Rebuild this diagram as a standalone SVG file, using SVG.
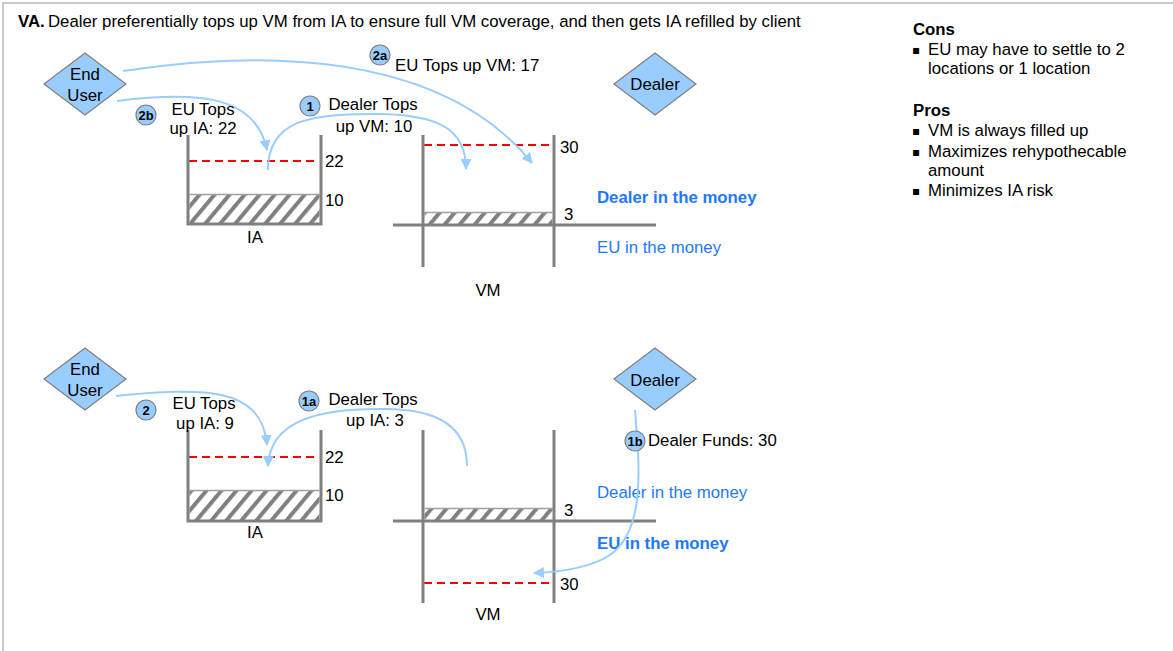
<svg xmlns="http://www.w3.org/2000/svg" width="1173" height="651" viewBox="0 0 1173 651">
<style>
text{font-family:"Liberation Sans",Arial,sans-serif;font-size:16.8px;fill:#000}
.b{font-weight:bold}
.m{text-anchor:middle}
.blue{fill:#1e78ff}
.badge circle{fill:#99ccff;stroke:#7f7f7f;stroke-width:1.2}
.badge text{font-size:13px;font-weight:bold;text-anchor:middle}
.node polygon{fill:#99ccff;stroke:#7f7f7f;stroke-width:1.2}
.wall{stroke:#808080;stroke-width:3;fill:none}
.dash{stroke:#ff0000;stroke-width:2;stroke-dasharray:8 5;fill:none}
.conn path{fill:none;stroke:#99ccff;stroke-width:2}
.arr{marker-end:url(#ah)}
.hatch{fill:url(#hp)}
.htop{stroke:#a0a0a0;stroke-width:1.5}
.bul{font-family:"DejaVu Sans","Liberation Sans",sans-serif;font-size:12px}
</style>
<defs>
<marker id="ah" viewBox="0 0 10 10" refX="9" refY="5" markerWidth="11" markerHeight="11" markerUnits="userSpaceOnUse" orient="auto">
<path d="M0,0 L10,5 L0,10 z" fill="#99ccff"/>
</marker>
<pattern id="hp" patternUnits="userSpaceOnUse" width="11.5" height="11.5" patternTransform="rotate(40)">
<rect width="11.5" height="11.5" fill="#fff"/>
<rect width="4" height="11.5" fill="#808080"/>
</pattern>
</defs>
<rect x="0" y="0" width="1173" height="651" fill="#fff"/>
<path d="M3,651 V3 H1173" fill="none" stroke="#c8c8c8" stroke-width="2"/>

<text x="18" y="27"><tspan class="b">VA.</tspan><tspan x="48">Dealer preferentially tops up VM from IA to ensure full VM coverage, and then gets IA refilled by client</tspan></text>

<!-- Top section -->
<g id="top-enduser" class="node"><polygon points="44,84 85,53 126,84 85,115"/><text class="m" x="85" y="80">End</text><text class="m" x="85" y="101">User</text></g>
<g id="top-dealer" class="node"><polygon points="614,84 655,53 696,84 655,115"/><text class="m" x="655" y="90">Dealer</text></g>

<g id="top-ia">
<rect class="hatch" x="189.5" y="194" width="130" height="29.5"/>
<line class="htop" x1="189.5" y1="194.5" x2="319.5" y2="194.5"/>
<line class="dash" x1="189" y1="161" x2="318" y2="161"/>
<path class="wall" d="M188,135 V224 H321 V135"/>
<text x="325" y="167">22</text><text x="325" y="206">10</text><text class="m" x="255" y="243">IA</text>
</g>
<g id="top-vm">
<rect class="hatch" x="424.5" y="212" width="128" height="12"/>
<line class="htop" x1="424.5" y1="212.5" x2="552.5" y2="212.5"/>
<line class="dash" x1="424" y1="145" x2="550" y2="145"/>
<line class="wall" x1="393" y1="225" x2="656" y2="225"/>
<line class="wall" x1="423" y1="135" x2="423" y2="267"/>
<line class="wall" x1="554" y1="135" x2="554" y2="267"/>
<text x="560" y="153">30</text><text x="564" y="220">3</text><text class="m" x="488" y="296">VM</text>
<text class="b blue" x="597" y="203">Dealer in the money</text>
<text class="blue" x="597" y="253">EU in the money</text>
</g>

<!-- Bottom section -->
<g id="bot-enduser" class="node"><polygon points="44,379 85,348 126,379 85,410"/><text class="m" x="85" y="375">End</text><text class="m" x="85" y="396">User</text></g>
<g id="bot-dealer" class="node"><polygon points="614,379 655,348 696,379 655,410"/><text class="m" x="655" y="386">Dealer</text></g>

<g id="bot-ia">
<rect class="hatch" x="189.5" y="490" width="130" height="30.5"/>
<line class="htop" x1="189.5" y1="490.5" x2="319.5" y2="490.5"/>
<line class="dash" x1="189" y1="457" x2="318" y2="457"/>
<path class="wall" d="M188,430 V521 H321 V430"/>
<text x="325" y="463">22</text><text x="325" y="501">10</text><text class="m" x="255" y="538">IA</text>
</g>
<g id="bot-vm">
<rect class="hatch" x="424.5" y="508" width="128" height="12"/>
<line class="htop" x1="424.5" y1="508.5" x2="552.5" y2="508.5"/>
<line class="dash" x1="424" y1="583" x2="550" y2="583"/>
<line class="wall" x1="393" y1="521" x2="656" y2="521"/>
<line class="wall" x1="423" y1="430" x2="423" y2="603"/>
<line class="wall" x1="554" y1="430" x2="554" y2="603"/>
<text x="564" y="516">3</text><text x="560" y="590">30</text><text class="m" x="488" y="620">VM</text>
<text class="blue" x="597" y="498">Dealer in the money</text>
<text class="b blue" x="597" y="549">EU in the money</text>
</g>

<g id="connectors" class="conn">
<path class="arr" d="M123,71 C260,50 440,50 532,163"/>
<path class="arr" d="M117,101 C190,92 255,92 267,150"/>
<path class="arr" d="M268,170 C268,120 310,113 380,114 C440,115 466,130 466,169"/>
<path class="arr" d="M116,396 C200,388 262,385 267,445"/>
<path class="arr" d="M467,466 C467,425 435,409 385,409 C320,408 270,420 268,466"/>
<path class="arr" d="M635,410 C640,470 645,530 610,555 C590,568 560,572 534,573"/>
</g>

<g id="labels">
<text x="395" y="71">EU Tops up VM: 17</text>
<text class="m" x="203" y="115">EU Tops</text><text class="m" x="203" y="134">up IA: 22</text>
<text class="m" x="373" y="110">Dealer Tops</text><text class="m" x="374" y="132">up VM: 10</text>
<text class="m" x="204" y="409">EU Tops</text><text class="m" x="205" y="429">up IA: 9</text>
<text class="m" x="373" y="405">Dealer Tops</text><text class="m" x="375" y="426">up IA: 3</text>
<text x="648" y="446">Dealer Funds: 30</text>
</g>

<g id="badges">
<g class="badge"><circle cx="380" cy="55" r="10"/><text x="380" y="59.5">2a</text></g>
<g class="badge"><circle cx="146" cy="115" r="10"/><text x="146" y="119.5">2b</text></g>
<g class="badge"><circle cx="310" cy="106" r="10"/><text x="310" y="110.5">1</text></g>
<g class="badge"><circle cx="146" cy="410" r="10"/><text x="146" y="414.5">2</text></g>
<g class="badge"><circle cx="309" cy="401" r="10"/><text x="309" y="405.5">1a</text></g>
<g class="badge"><circle cx="635" cy="441" r="10"/><text x="635" y="445.5">1b</text></g>
</g>

<g id="proscons">
<text class="b" x="913" y="35">Cons</text>
<text class="bul" x="912" y="54">▪</text><text x="928" y="55">EU may have to settle to 2</text>
<text x="928" y="74">locations or 1 location</text>
<text class="b" x="913" y="116">Pros</text>
<text class="bul" x="912" y="135">▪</text><text x="928" y="136">VM is always filled up</text>
<text class="bul" x="912" y="156">▪</text><text x="928" y="157">Maximizes rehypothecable</text>
<text x="928" y="176">amount</text>
<text class="bul" x="912" y="195">▪</text><text x="928" y="196">Minimizes IA risk</text>
</g>
</svg>
